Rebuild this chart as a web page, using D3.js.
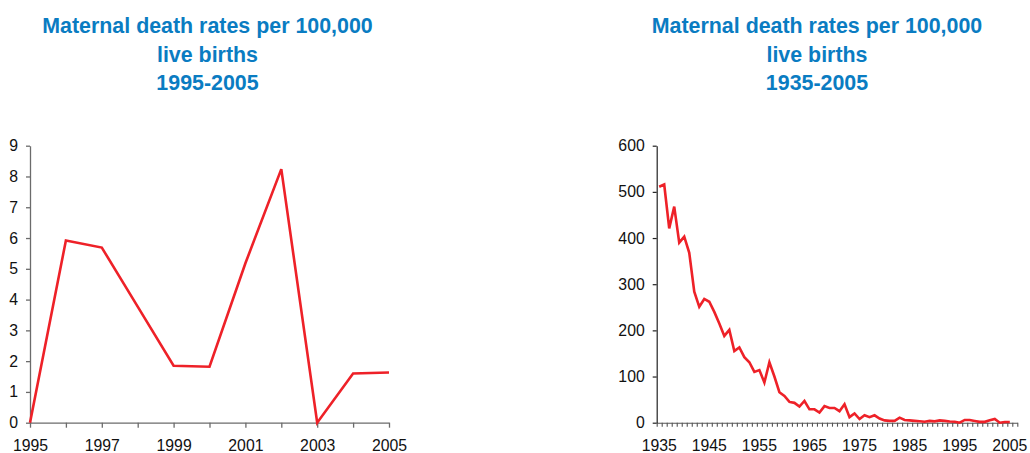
<!DOCTYPE html>
<html>
<head>
<meta charset="utf-8">
<script src="https://cdn.jsdelivr.net/npm/d3@7"></script>
<style>
  html, body { margin: 0; padding: 0; background: #fff; }
  svg { display: block; font-family: "Liberation Sans", Arial, Helvetica, sans-serif; }
</style>
</head>
<body>
<svg id="chart" width="1030" height="453"></svg>
<script>
// ---- Data ----
const titleLines1 = ["Maternal death rates per 100,000", "live births", "1995-2005"];
const titleLines2 = ["Maternal death rates per 100,000", "live births", "1935-2005"];

const years1 = [1995, 1996, 1997, 1998, 1999, 2000, 2001, 2002, 2003, 2004, 2005];
const rates1 = [0, 5.92, 5.69, 3.77, 1.85, 1.82, 5.18, 8.24, 0, 1.60, 1.63];
const xLabels1 = [1995, 1997, 1999, 2001, 2003, 2005];
const yTicks1 = [0, 1, 2, 3, 4, 5, 6, 7, 8, 9];

const years2 = d3.range(1935, 2006);
const rates2 = [
  511, 516, 421, 468, 390, 403, 368, 284, 251, 268,
  262, 240, 215, 188, 201, 155, 163, 142, 131, 110,
  114, 87, 131, 100, 66, 58, 45, 43, 35, 47,
  29, 29, 22, 36, 32, 32, 25, 40, 12, 20,
  8, 16, 12, 16, 9, 5, 4, 4, 11, 6,
  5, 4, 3, 2, 4, 3, 5, 4, 2.5, 2,
  0, 5.92, 5.69, 3.77, 1.85, 1.82, 5.18, 8.24, 0, 1.60,
  1.63
];
const categories2 = d3.range(1935, 2007); // category slots on the axis
const xLabels2 = [1935, 1945, 1955, 1965, 1975, 1985, 1995, 2005];
const yTicks2 = [0, 100, 200, 300, 400, 500, 600];

// ---- Drawing ----
const svg = d3.select("#chart");
const red = "#ee2128";
const blue = "#0a7cc2";
const labelSize = 15.8;

function drawTitle(lines, cx) {
  const t = svg.append("text")
    .attr("text-anchor", "middle")
    .attr("fill", blue)
    .attr("font-weight", "bold")
    .attr("font-size", 21.4);
  lines.forEach((s, i) => {
    t.append("tspan").attr("x", cx).attr("y", 33 + i * 28.5).text(s);
  });
}

drawTitle(titleLines1, 207.5);
drawTitle(titleLines2, 817);

// Left chart
{
  const x = d3.scaleLinear().domain([1995, 2005]).range([30, 389]);
  const y = d3.scaleLinear().domain([0, 9]).range([422.7, 145.7]);
  const axisColor = "#6b6b6b";

  const gx = svg.append("g").attr("transform", `translate(0,${y(0)})`)
    .call(d3.axisBottom(x).tickValues(years1).tickSize(5).tickSizeOuter(0)
      .tickFormat(d => xLabels1.includes(d) ? String(d) : ""));
  gx.selectAll("text").attr("y", 17.5).attr("font-size", labelSize).attr("fill", "#111");

  const gy = svg.append("g").attr("transform", `translate(${x(1995)},0)`)
    .call(d3.axisLeft(y).tickValues(yTicks1).tickSize(4).tickSizeOuter(0).tickFormat(d3.format("d")));
  gy.selectAll("text").attr("x", -12).attr("font-size", labelSize).attr("fill", "#111");

  [gx, gy].forEach(g => {
    g.attr("font-family", null);
    g.selectAll("path, line").attr("stroke", axisColor).attr("stroke-width", 1.3);
  });

  const line = d3.line().x((d, i) => x(years1[i])).y(d => y(d));
  svg.append("path").datum(rates1)
    .attr("fill", "none").attr("stroke", red).attr("stroke-width", 2.6)
    .attr("stroke-linejoin", "miter").attr("d", line);
}

// Right chart
{
  const x = d3.scaleBand().domain(categories2).range([656.7, 1017.3]).padding(0);
  const y = d3.scaleLinear().domain([0, 600]).range([422.7, 145.7]);
  const bw = x.bandwidth();
  const edge = d3.scaleLinear().domain([0, categories2.length]).range([656.7, 1017.3]);

  // tick marks at category boundaries
  const gx = svg.append("g").attr("transform", `translate(0,${y(0)})`)
    .call(d3.axisBottom(edge).tickValues(d3.range(0, categories2.length + 1)).tickSize(4).tickSizeOuter(0).tickFormat(""));
  gx.selectAll("path, line").attr("stroke", "#555").attr("stroke-width", 1.1);

  // labels at category centers
  const gl = svg.append("g").attr("transform", `translate(0,${y(0)})`)
    .call(d3.axisBottom(x).tickValues(xLabels2).tickSize(0).tickFormat(d3.format("d")));
  gl.select(".domain").remove();
  gl.attr("font-family", null);
  gl.selectAll("text").attr("y", 17.5).attr("font-size", labelSize).attr("fill", "#111");

  const gy = svg.append("g").attr("transform", `translate(656.7,0)`)
    .call(d3.axisLeft(y).tickValues(yTicks2).tickSize(4).tickSizeOuter(0));
  gy.attr("font-family", null);
  gy.selectAll("path, line").attr("stroke", "#222").attr("stroke-width", 1.2);
  gy.selectAll("text").attr("x", -12).attr("font-size", labelSize).attr("fill", "#111");

  const line = d3.line().x((d, i) => x(years2[i]) + bw / 2).y(d => y(d));
  svg.append("path").datum(rates2)
    .attr("fill", "none").attr("stroke", red).attr("stroke-width", 2.6)
    .attr("stroke-linejoin", "miter").attr("d", line);
}
</script>
</body>
</html>
